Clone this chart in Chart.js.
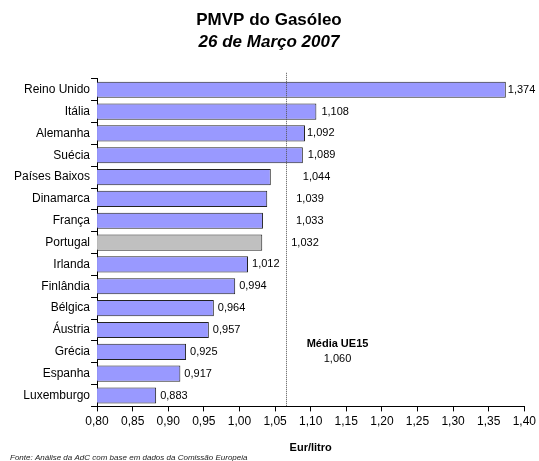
<!DOCTYPE html>
<html lang="pt">
<head>
<meta charset="utf-8">
<title>PMVP do Gasóleo</title>
<script src="https://cdn.jsdelivr.net/npm/chart.js@4"></script>
<style>
  html, body { margin: 0; padding: 0; background: #fff; }
  #wrap { width: 539px; height: 461px; position: relative; }
</style>
</head>
<body>
<div id="wrap"><canvas id="chart"></canvas></div>
<script>
const countries = ["Reino Unido", "Itália", "Alemanha", "Suécia", "Países Baixos", "Dinamarca", "França",
  "Portugal", "Irlanda", "Finlândia", "Bélgica", "Áustria", "Grécia", "Espanha", "Luxemburgo"];
const prices = [1.374, 1.108, 1.092, 1.089, 1.044, 1.039, 1.033, 1.032, 1.012, 0.994, 0.964, 0.957, 0.925, 0.917, 0.883];
const meanLabel = "Média UE15";
const meanValue = 1.060;
const meanLinePos = 1.065; // where the dotted line sits in the picture
const xMin = 0.80, xMax = 1.40, xStep = 0.05;

// pixel gap between bar end and its label (some pushed past the average line)
const labelGap = [2, 5, 2, 5, 32, 29, 33, 29, 4, 4, 4, 4, 4, 4, 4];

const fmt = (v, d) => v.toFixed(d).replace(".", ",");
const FONT = "'Liberation Sans', Arial, sans-serif";

const valueLabels = {
  id: "valueLabels",
  afterDatasetsDraw(chart) {
    const ctx = chart.ctx;
    const meta = chart.getDatasetMeta(0);
    ctx.save();
    ctx.font = "11px " + FONT;
    ctx.fillStyle = "#000";
    ctx.textBaseline = "middle";
    ctx.textAlign = "left";
    meta.data.forEach((bar, i) => {
      ctx.fillText(fmt(prices[i], 3), bar.x + labelGap[i], bar.y);
    });
    ctx.restore();
  }
};

const meanLine = {
  id: "meanLine",
  afterDraw(chart) {
    const ctx = chart.ctx;
    const area = chart.chartArea;
    const x = Math.round(chart.scales.x.getPixelForValue(meanLinePos)) + 0.5;
    ctx.save();
    ctx.strokeStyle = "#555";
    ctx.lineWidth = 1;
    ctx.setLineDash([1, 1]);
    ctx.beginPath();
    ctx.moveTo(x, area.top - 6);
    ctx.lineTo(x, area.bottom);
    ctx.stroke();
    ctx.setLineDash([]);
    ctx.fillStyle = "#000";
    ctx.textAlign = "center";
    ctx.textBaseline = "middle";
    ctx.font = "bold 11px " + FONT;
    ctx.fillText(meanLabel, x + 51, area.top + 265);
    ctx.font = "11px " + FONT;
    ctx.fillText(fmt(meanValue, 3), x + 51, area.top + 280);

    // source note
    ctx.font = "italic 8px " + FONT;
    ctx.textAlign = "left";
    ctx.fillStyle = "#222";
    ctx.fillText("Fonte: Análise da AdC com base em dados da Comissão Europeia", 10, 458);
    ctx.restore();
  }
};

new Chart(document.getElementById("chart"), {
  type: "bar",
  data: {
    labels: countries,
    datasets: [{
      data: prices,
      backgroundColor: countries.map((c) => (c === "Portugal" ? "#C0C0C0" : "#9999FF")),
      borderColor: "#222",
      borderWidth: 1,
      borderSkipped: false,
      barPercentage: 0.74,
      categoryPercentage: 1.0
    }]
  },
  options: {
    indexAxis: "y",
    responsive: true,
    maintainAspectRatio: false,
    animation: false,
    layout: { padding: { left: 13, right: 14, top: 6, bottom: 6 } },
    plugins: {
      legend: { display: false },
      tooltip: { enabled: false },
      title: {
        display: true,
        text: "PMVP do Gasóleo",
        color: "#000",
        font: { family: FONT, size: 17, weight: "bold" },
        padding: { top: 4, bottom: 2 }
      },
      subtitle: {
        display: true,
        text: "26 de Março 2007",
        color: "#000",
        font: { family: FONT, size: 17, weight: "bold", style: "italic" },
        padding: { top: 0, bottom: 26 }
      }
    },
    scales: {
      x: {
        type: "linear",
        min: xMin,
        max: xMax,
        ticks: {
          stepSize: xStep,
          color: "#000",
          font: { family: FONT, size: 12 },
          padding: 3,
          maxRotation: 0,
          callback: (v) => fmt(v, 2)
        },
        grid: { drawOnChartArea: false, drawTicks: true, tickLength: 5, color: "#000" },
        border: { color: "#000" },
        title: {
          display: true,
          text: "Eur/litro",
          color: "#000",
          font: { family: FONT, size: 11, weight: "bold" },
          padding: { top: 10, bottom: 0 }
        }
      },
      y: {
        ticks: {
          color: "#000",
          font: { family: FONT, size: 12 },
          padding: 1
        },
        grid: { offset: true, drawOnChartArea: false, drawTicks: true, tickLength: 6, color: "#000" },
        border: { color: "#000" }
      }
    }
  },
  plugins: [valueLabels, meanLine]
});
</script>
</body>
</html>
